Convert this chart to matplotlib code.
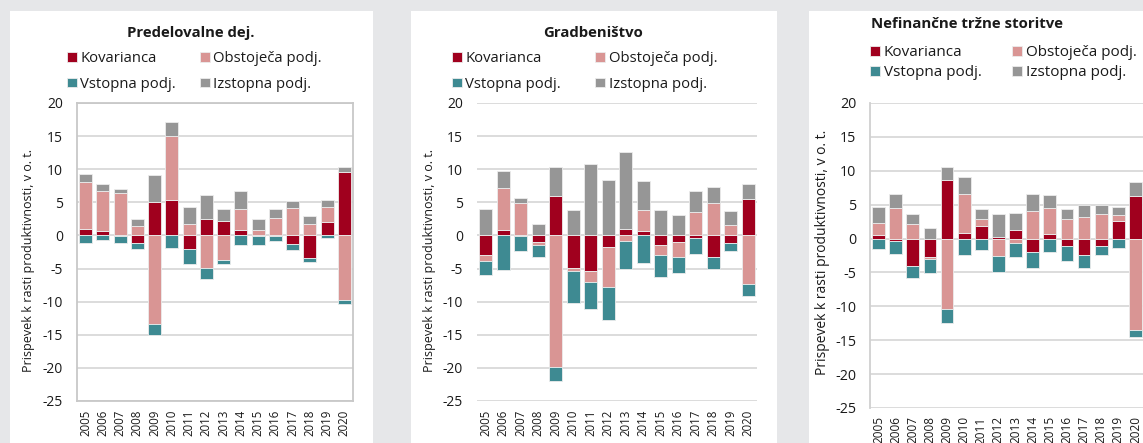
import numpy as np
import matplotlib
matplotlib.use("Agg")
import matplotlib.pyplot as plt
from matplotlib.patches import Rectangle

plt.rcParams['font.family'] = ['Open Sans', 'DejaVu Sans']
plt.rcParams['axes.unicode_minus'] = False

years = [str(y) for y in range(2005, 2021)]
series_names = ["Kovarianca", "Obstoječa podj.", "Vstopna podj.", "Izstopna podj."]
colors = ["#a0001e", "#d99594", "#3e8a92", "#969696"]
ylabel = "Prispevek k rasti produktivnosti, v o. t."

# Predelovalne dej.
kov1 = [1.0, 0.7, -0.1, -1.2, 5.0, 5.3, -2.0, 2.5, 2.2, 0.85, -0.1, -0.05, -1.3, -3.4, 2.05, 9.6]
obs1 = [7.0, 6.0, 6.45, 1.45, -13.4, 9.75, 1.8, -4.95, -3.75, 3.15, 0.75, 2.6, 4.2, 1.75, 2.3, -9.75]
vst1 = [-1.2, -0.65, -1.1, -0.8, -1.65, -1.95, -2.25, -1.7, -0.6, -1.4, -1.3, -0.8, -0.95, -0.65, -0.35, -0.65]
izs1 = [1.3, 1.1, 0.6, 1.0, 4.2, 2.15, 2.5, 3.6, 1.75, 2.7, 1.8, 1.35, 0.95, 1.15, 1.0, 0.7]

# Gradbeništvo
kov2 = [-3.0, 0.75, -0.05, -1.0, 5.9, -4.9, -5.4, -1.75, 0.9, 0.7, -1.5, -0.95, -0.4, -3.2, -1.1, 5.5]
obs2 = [-0.9, 6.35, 4.9, -0.5, -19.85, -0.4, -1.65, -6.05, -0.8, 3.1, -1.45, -2.35, 3.6, 4.85, 1.55, -7.3]
vst2 = [-2.0, -5.15, -2.25, -1.7, -2.1, -4.9, -4.1, -4.95, -4.25, -4.2, -3.35, -2.4, -2.35, -1.8, -1.2, -1.8]
izs2 = [3.95, 2.6, 0.8, 1.7, 4.45, 3.9, 10.85, 8.4, 11.7, 4.45, 3.8, 3.15, 3.1, 2.45, 2.1, 2.2]

# Nefinančne tržne storitve
kov3 = [0.55, -0.3, -4.05, -2.7, 8.6, 0.8, 1.8, 0.3, 1.2, -2.0, 0.65, -1.1, -2.4, -1.05, 2.65, 6.35]
obs3 = [1.7, 4.45, 2.15, -0.35, -10.4, 5.8, 1.1, -2.55, -0.7, 4.1, 3.9, 2.9, 3.25, 3.55, 0.85, -13.5]
vst3 = [-1.6, -1.95, -1.8, -2.0, -2.05, -2.5, -1.75, -2.4, -2.05, -2.35, -2.05, -2.25, -1.9, -1.4, -1.35, -1.0]
izs3 = [2.35, 2.1, 1.5, 1.5, 1.9, 2.55, 1.5, 3.3, 2.5, 2.5, 1.9, 1.4, 1.7, 1.4, 1.2, 2.05]

titles = ["Predelovalne dej.", "Gradbeništvo", "Nefinančne tržne storitve"]

W, H = 1143, 443
fig = plt.figure(figsize=(W / 100, H / 100), dpi=100)
fig.patch.set_facecolor('#e6e7e9')
TXT = '#1a1a1a'


def px(x0, y0, x1, y1):
    return [x0 / W, 1 - y1 / H, (x1 - x0) / W, (y1 - y0) / H]


for (x0, x1) in [(10, 373), (411, 777), (809, 1170)]:
    fig.patches.append(Rectangle((x0 / W, 0), (x1 - x0) / W, 1 - 11 / H,
                                 transform=fig.transFigure, facecolor='white',
                                 edgecolor='none', zorder=-5))


def draw(ax, data, fs=10, xfs=8.3):
    x = np.arange(len(years))
    pos = np.zeros(len(years))
    neg = np.zeros(len(years))
    for vals, c, name in zip(data, colors, series_names):
        v = np.array(vals, dtype=float)
        bottom = np.where(v >= 0, pos, neg)
        ax.bar(x, v, 0.75, bottom=bottom, color=c, edgecolor='#ececec',
               linewidth=0.6, label=name, zorder=3)
        pos += np.where(v >= 0, v, 0)
        neg += np.where(v < 0, v, 0)
    ax.set_xlim(-0.5, 15.5)
    ax.set_ylim(-25, 20)
    ax.set_yticks(range(-25, 21, 5))
    ax.set_xticks(x)
    ax.set_xticklabels(years, rotation=90, fontsize=xfs, color=TXT)
    for t in ax.get_yticklabels():
        t.set_fontsize(fs)
        t.set_color(TXT)
    ax.yaxis.grid(True, color='#d9d9d9', lw=1.3, zorder=0)
    ax.set_axisbelow(True)
    ax.tick_params(axis='y', length=0, pad=10)
    ax.tick_params(axis='x', length=0, pad=6)
    ax.set_facecolor('white')


ax1 = fig.add_axes(px(77, 103, 353, 401))
ax2 = fig.add_axes(px(477, 103, 757, 401))
ax3 = fig.add_axes(px(870, 103, 1144, 408))

draw(ax1, [kov1, obs1, vst1, izs1])
draw(ax2, [kov2, obs2, vst2, izs2])
draw(ax3, [kov3, obs3, vst3, izs3], fs=10.3, xfs=8.5)

for s in ax1.spines.values():
    s.set_color('#c8c8c8')
    s.set_linewidth(1.3)
for s in ax2.spines.values():
    s.set_visible(False)
for k, s in ax3.spines.items():
    if k == 'left':
        s.set_color('#d0d0d0')
        s.set_linewidth(1.3)
    else:
        s.set_visible(False)

# y labels
for ax, xc, yc, fs in [(ax1, 29, 260, 9), (ax2, 430, 260, 9), (ax3, 823, 252, 10)]:
    ax.set_ylabel(ylabel, fontsize=fs, color=TXT)
    ax.yaxis.label.set_va('center')
    ax.yaxis.set_label_coords(xc / W, 1 - yc / H, transform=fig.transFigure)

# titles
fig.text(191 / W, 1 - 33 / H, titles[0], ha='center', va='center', fontsize=10.7,
         fontweight='bold', color=TXT)
fig.text(593 / W, 1 - 33 / H, titles[1], ha='center', va='center', fontsize=10.7,
         fontweight='bold', color=TXT)
fig.text(871 / W, 1 - 24 / H, titles[2], ha='left', va='center', fontsize=10.8,
         fontweight='bold', color=TXT)

# legends (row-wise order: Kovarianca, Obstoječa / Vstopna, Izstopna)
for ax, lx, ly, cs, ls, fs in [(ax1, 67, 51, 1.6, 0.72, 10.7),
                               (ax2, 452, 51, 2.3, 0.72, 10.7),
                               (ax3, 870, 45, 2.0, 0.33, 11)]:
    h, l = ax.get_legend_handles_labels()
    order = [0, 2, 1, 3]
    ax.legend([h[i] for i in order], [l[i] for i in order],
              ncol=2, loc='upper left', bbox_to_anchor=(lx / W, 1 - ly / H),
              bbox_transform=fig.transFigure, frameon=False, fontsize=fs,
              handlelength=0.65, handleheight=0.65, handletextpad=0.25,
              columnspacing=cs, labelspacing=ls, borderpad=0, borderaxespad=0,
              labelcolor=TXT)

fig.savefig('out.png', dpi=100, facecolor=fig.get_facecolor())
